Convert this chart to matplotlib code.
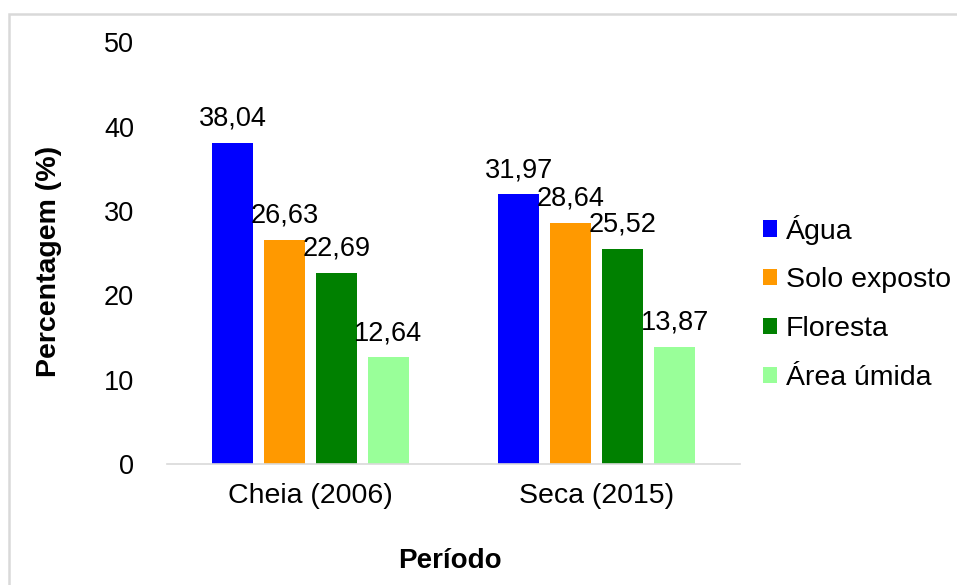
import matplotlib
matplotlib.use("Agg")
import matplotlib.pyplot as plt
from matplotlib.patches import Rectangle
import numpy as np

plt.rcParams['font.family'] = ['Liberation Sans', 'DejaVu Sans']

categories = ["Cheia (2006)", "Seca (2015)"]
series_names = ["Água", "Solo exposto", "Floresta", "Área úmida"]
agua = [38.04, 31.97]
solo_exposto = [26.63, 28.64]
floresta = [22.69, 25.52]
area_umida = [12.64, 13.87]
series_values = [agua, solo_exposto, floresta, area_umida]
colors = ["#0000FF", "#FF9900", "#008000", "#99FF99"]
yticks = [0, 10, 20, 30, 40, 50]

W, H = 957, 585
fig = plt.figure(figsize=(W / 100, H / 100), dpi=100)
ax = fig.add_axes([167 / W, 1 - 464 / H, 573 / W, 421.5 / H])

fs = 19.5
x = np.arange(len(categories))
pitch = 0.181
width = 0.143
n = len(series_names)
for i, (name, vals, c) in enumerate(zip(series_names, series_values, colors)):
    pos = x + (i - (n - 1) / 2) * pitch
    bars = ax.bar(pos, vals, width=width, color=c, label=name, zorder=2)
    for b, v in zip(bars, vals):
        ax.annotate(f"{v:.2f}".replace(".", ","),
                    (b.get_x() + b.get_width() / 2, b.get_height()),
                    xytext=(0, 12.5), textcoords="offset points",
                    ha="center", va="baseline", fontsize=fs, color="#000000")

ax.set_xlim(-0.5, 1.5)
ax.set_ylim(0, 50)
ax.set_yticks(yticks)
ax.set_yticklabels([str(t) for t in yticks])
ax.set_xticks(x)
ax.set_xticklabels(categories)
ax.tick_params(axis="both", length=0, labelsize=fs, colors="#000000")
ax.tick_params(axis="y", pad=23.8)
ax.tick_params(axis="x", pad=14.0, labelsize=20.5)
for s in ["top", "right", "left"]:
    ax.spines[s].set_visible(False)
ax.spines["bottom"].set_color("#D9D9D9")
ax.spines["bottom"].set_linewidth(1.2)
ax.spines["bottom"].set_zorder(3)

fig.text(450 / W, 1 - 568 / H, "Período", ha="center", va="baseline",
         fontsize=20, fontweight="bold")
fig.text(49.5 / W, 1 - 261.5 / H, "Percentagem (%)", ha="center", va="center",
         rotation=90, fontsize=20.5, fontweight="bold")

ax.legend(loc="center left", bbox_to_anchor=(763 / W, 1 - 302.7 / H),
          bbox_transform=fig.transFigure, frameon=False, borderpad=0,
          borderaxespad=0, handlelength=0.5, handleheight=0.5,
          handletextpad=0.3, labelspacing=0.8, fontsize=20.5)

fig.patches.append(Rectangle((9 / W, -0.2), 2, 1.2 - 14 / H, fill=False,
                             edgecolor="#D9D9D9", linewidth=1.8,
                             transform=fig.transFigure, figure=fig))

fig.savefig("out.png", dpi=100, facecolor="white")
